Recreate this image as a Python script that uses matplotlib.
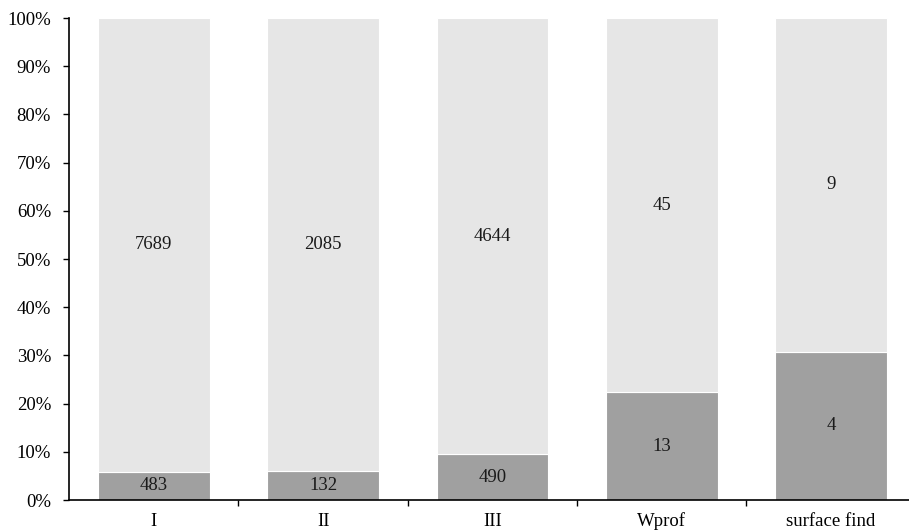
import matplotlib.pyplot as plt
import numpy as np
from matplotlib.ticker import PercentFormatter

plt.rcParams['font.family'] = ['Liberation Serif', 'DejaVu Serif']

categories = ['I', 'II', 'III', 'Wprof', 'surface find']
lower_counts = [483, 132, 490, 13, 4]
upper_counts = [7689, 2085, 4644, 45, 9]

lower = np.array(lower_counts, dtype=float)
upper = np.array(upper_counts, dtype=float)
total = lower + upper
lower_pct = lower / total * 100
upper_pct = upper / total * 100

fig = plt.figure(figsize=(9.09, 5.32), dpi=100)
ax = fig.add_axes([0.076, 0.060, 0.924, 0.906])

x = np.arange(len(categories))
w = 0.66
ax.bar(x, lower_pct, w, color='#a0a0a0', edgecolor='white', linewidth=0.8)
ax.bar(x, upper_pct, w, bottom=lower_pct, color='#e6e6e6', edgecolor='white', linewidth=0.8)

for i in range(len(categories)):
    ax.text(x[i], lower_pct[i] / 2, str(lower_counts[i]), ha='center', va='center', fontsize=13.5, color='#1a1a1a')
    ax.text(x[i], lower_pct[i] + upper_pct[i] / 2, str(upper_counts[i]), ha='center', va='center', fontsize=13.5, color='#1a1a1a')

ax.set_xlim(-0.5, 4.46)
ax.set_ylim(0, 100)
ax.set_yticks(np.arange(0, 101, 10))
ax.yaxis.set_major_formatter(PercentFormatter(decimals=0))
ax.set_xticks(x)
ax.set_xticklabels(categories)
ax.set_xticks(x[:-1] + 0.5, minor=True)
ax.tick_params(axis='x', which='major', length=0, labelsize=13.5, pad=9)
ax.tick_params(axis='x', which='minor', length=4, direction='out', width=1)
ax.tick_params(axis='y', length=4, width=1, labelsize=13.5, pad=9)

for s in ['top', 'right']:
    ax.spines[s].set_visible(False)
ax.spines['left'].set_linewidth(1.2)
ax.spines['bottom'].set_linewidth(1.2)

plt.savefig('out.png', dpi=100)
